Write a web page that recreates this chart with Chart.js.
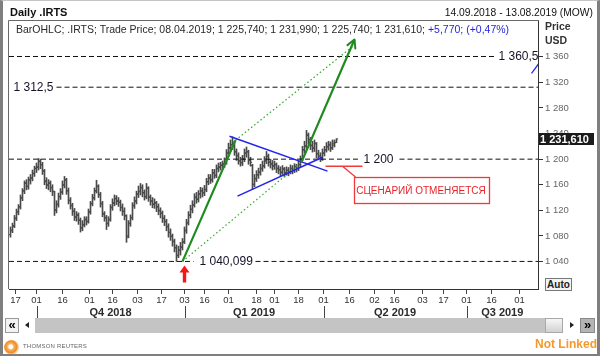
<!DOCTYPE html>
<html><head><meta charset="utf-8">
<script src="https://cdn.jsdelivr.net/npm/chart.js@4.4.1/dist/chart.umd.min.js"></script>
<style>
html,body{margin:0;padding:0;background:#fff;}
#wrap{position:relative;width:600px;height:356px;overflow:hidden;font-family:"Liberation Sans",Arial,sans-serif;background:#fff;}
#c{position:absolute;left:0;top:0;}
.t{position:absolute;white-space:nowrap;}
#frame{position:absolute;left:0;top:0;width:600px;height:356px;box-sizing:border-box;border-left:3px solid #7f7f7f;border-right:3px solid #7f7f7f;border-bottom:2px solid #7f7f7f;border-top:1px solid #c4c4c4;pointer-events:none;}
</style></head><body>
<div id="wrap">
<canvas id="c" width="600" height="356"></canvas>
<div class="t" style="left:10px;top:6px;font-weight:bold;font-size:11px;line-height:13px;color:#111;">Daily .IRTS</div>
<div class="t" style="right:7px;top:6px;font-size:10.3px;line-height:13px;color:#111;">14.09.2018 - 13.08.2019 (MOW)</div>
<div class="t" id="legend" style="left:16px;top:23px;font-size:10.5px;line-height:12px;color:#2a2a2a;"></div>
<div class="t" style="left:545px;top:20px;font-weight:bold;font-size:10.5px;line-height:13px;color:#333;">Price</div>
<div class="t" style="left:545px;top:34px;font-weight:bold;font-size:10.5px;line-height:13px;color:#333;">USD</div>
<div class="t" style="left:545px;top:278px;width:25px;height:11px;border:1px solid #777;background:#f3f3f3;font-weight:bold;font-size:10px;line-height:11px;text-align:center;color:#222;">Auto</div>
<!-- scrollbar -->
<div class="t" style="left:5px;top:318px;width:12px;height:13px;border:1px solid #9a9a9a;background:#f2f2f2;font-weight:bold;font-size:13px;line-height:12px;text-align:center;color:#000;">«</div>
<div class="t" style="left:25px;top:322px;width:0;height:0;border-top:3px solid transparent;border-bottom:3px solid transparent;border-right:4px solid #222;"></div>
<div class="t" style="left:35px;top:318px;width:510px;height:15px;background:#c4c4c4;"></div>
<div class="t" style="left:545px;top:318px;width:16px;height:13px;border:1px solid #a8a8a8;background:linear-gradient(#f6f6f6,#d2d2d2);"></div>
<div class="t" style="left:570px;top:322px;width:0;height:0;border-top:3px solid transparent;border-bottom:3px solid transparent;border-left:4px solid #222;"></div>
<div class="t" style="left:580px;top:318px;width:13px;height:13px;border:1px solid #888;background:#b4b4b4;font-weight:bold;font-size:13px;line-height:12px;text-align:center;color:#000;">»</div>
<!-- footer -->
<div class="t" style="left:4px;top:340px;width:15px;height:15px;border-radius:50%;background:radial-gradient(circle at 45% 45%,#fff 0 2px,#f9b56a 3px,#f08a1c 6px,#fbd2a4 7.5px);"></div>
<div class="t" style="left:23px;top:343px;font-size:6px;line-height:7px;color:#666;letter-spacing:0.2px;">THOMSON REUTERS</div>
<div class="t" style="right:3px;top:337px;font-weight:bold;font-size:12px;line-height:14px;color:#f39a2c;">Not Linked</div>
<div id="frame"></div>
</div>
<script>
// ---------- data ----------
const lastDate = '08.04.2019';
const opens = [1082,1089,1096,1107,1117,1126,1139,1151,1163,1157,
 1167,1171,1177,1186,1187,1197,1191,1181,1166,1159,
 1163,1156,1149,1121,1129,1141,1149,1159,1167,1151,
 1136,1127,1119,1109,1113,1104,1093,1097,1106,1103,
 1117,1131,1139,1151,1157,1144,1131,1114,1109,1099,
 1106,1124,1131,1139,1134,1133,1124,1119,1111,1080,
 1099,1109,1127,1134,1146,1149,1156,1147,1141,1154,
 1141,1134,1129,1131,1126,1119,1116,1107,1103,1094,
 1086,1079,1071,1061,1049,1057,1063,1071,1089,1101,
 1113,1121,1129,1141,1137,1146,1151,1147,1153,1164,
 1171,1167,1179,1174,1186,1187,1191,1193,1196,1209,
 1217,1223,1224,1211,1206,1197,1194,1201,1209,1211,
 1199,1190,1161,1169,1176,1179,1186,1189,1197,1204,
 1196,1193,1189,1191,1186,1184,1179,1184,1179,1182,
 1181,1185,1182,1189,1186,1191,1201,1214,1221,1237,
 1231,1221,1217,1224,1209,1204,1201,1209,1214,1219,
 1223,1217,1222,1225.74];
const highs = [1094,1100,1112,1122,1129,1144,1154,1166,1168,1172,
 1176,1183,1189,1194,1201,1200,1195,1184,1171,1168,
 1166,1160,1150,1135,1147,1154,1166,1173,1170,1155,
 1140,1131,1123,1118,1116,1108,1104,1110,1110,1122,
 1134,1145,1155,1167,1160,1148,1134,1118,1112,1110,
 1129,1138,1144,1143,1140,1136,1130,1124,1113,1104,
 1113,1132,1141,1150,1158,1162,1160,1152,1162,1157,
 1144,1140,1138,1134,1130,1124,1119,1112,1106,1099,
 1091,1083,1075,1066,1064,1070,1076,1094,1106,1118,
 1128,1135,1146,1148,1151,1156,1155,1159,1170,1176,
 1176,1184,1184,1191,1194,1195,1197,1202,1215,1225,
 1230,1235,1228,1216,1210,1203,1206,1216,1219,1214,
 1203,1192,1176,1182,1186,1192,1197,1204,1212,1208,
 1200,1198,1197,1194,1190,1188,1190,1187,1188,1187,
 1191,1190,1193,1192,1197,1205,1220,1228,1245,1241,
 1234,1228,1230,1226,1214,1210,1216,1220,1226,1228,
 1227,1230,1230,1231.99];
const lows = [1078,1085,1093,1104,1113,1122,1135,1146,1152,1153,
 1161,1166,1173,1179,1183,1185,1176,1160,1154,1152,
 1149,1143,1112,1116,1125,1137,1145,1155,1145,1130,
 1122,1112,1104,1103,1098,1086,1088,1094,1097,1100,
 1114,1127,1136,1147,1140,1125,1110,1103,1090,1095,
 1103,1120,1127,1129,1126,1119,1112,1105,1070,1077,
 1095,1105,1123,1130,1140,1144,1141,1136,1138,1134,
 1128,1124,1123,1118,1113,1108,1101,1096,1088,1078,
 1073,1064,1055,1040.099,1046,1050,1058,1068,1084,1097,
 1108,1116,1125,1131,1133,1139,1141,1143,1149,1160,
 1162,1164,1170,1171,1180,1183,1185,1187,1192,1204,
 1212,1215,1206,1198,1192,1189,1190,1196,1203,1192,
 1189,1153,1157,1165,1170,1175,1181,1186,1193,1189,
 1186,1183,1184,1179,1177,1174,1176,1172,1175,1174,
 1177,1177,1179,1180,1182,1188,1198,1210,1217,1224,
 1215,1211,1212,1202,1199,1196,1198,1205,1211,1214,
 1212,1215,1219,1225.74];
const closes = [1088,1095,1108,1118,1125,1140,1150,1162,1158,1168,
 1170,1178,1185,1188,1196,1192,1182,1165,1160,1162,
 1155,1150,1120,1130,1142,1148,1160,1168,1150,1135,
 1128,1118,1110,1112,1105,1092,1098,1105,1102,1118,
 1130,1140,1150,1158,1145,1130,1115,1108,1100,1105,
 1125,1132,1138,1135,1132,1125,1118,1112,1078,1100,
 1108,1128,1135,1145,1150,1155,1148,1142,1155,1140,
 1135,1130,1132,1125,1120,1115,1108,1102,1095,1085,
 1080,1072,1062,1050,1058,1062,1070,1088,1100,1112,
 1122,1128,1140,1138,1145,1150,1148,1152,1165,1170,
 1168,1178,1175,1185,1188,1190,1192,1195,1210,1218,
 1222,1225,1212,1205,1198,1195,1200,1210,1212,1198,
 1195,1160,1170,1175,1180,1185,1190,1198,1205,1195,
 1192,1190,1192,1185,1183,1180,1185,1178,1183,1180,
 1186,1183,1188,1185,1192,1200,1215,1220,1238,1230,
 1222,1218,1225,1208,1205,1200,1210,1215,1220,1222,
 1218,1225,1225.84,1231.61];

// x axis (bar index) ticks
const xTickPos = [2.5,13,26,39.5,51,63.5,75.5,87,97,109,123,132,144,156.5,169.5,182,192,206,216.5,228,240.5,254.5];
const xTickLabels = ['17','01','16','01','16','03','17','03','16','01','18','01','18','01','16','02','16','03','17','01','16','01'];
const quarterStarts = [13, 87, 156.5, 228];
const quarterLabels = ['Q4 2018','Q1 2019','Q2 2019','Q3 2019'];
const yTicks = [1040,1080,1120,1160,1200,1240,1280,1320,1360];

// horizontal levels
const levels = [1360.5, 1312.5, 1200, 1040.099];
const levelLabels = ['1 360,5','1 312,5','1 200','1 040,099'];
const levelLabelX = [244, 1.5, 176.5, 94.5];
const levelSegments = [[[-0.75,242]], [[23,263.75]], [[-0.75,174.5],[194.5,263.75]], [[-0.75,91.5],[122.5,263.75]]];

// drawn studies
const flagpole = [{x:86,y:1040.1},{x:112.5,y:1229.7}];
const projection = [{x:145.5,y:1195.3},{x:172,y:1387}];
const channelUpper = [{x:112.5,y:1229.7},{x:171,y:1376}];
const channelLower = [{x:86,y:1040.1},{x:145.5,y:1195.3}];
const triUpper = [{x:109.5,y:1235.9},{x:158.5,y:1181.3}];
const triLower = [{x:113.5,y:1142.2},{x:156,y:1203}];
const edgeLine = [{x:260.5,y:1334},{x:264.5,y:1351}];
const cancelLevel = [{x:157.5,y:1189},{x:176,y:1189}];
const cancelBox = {x0:171.5, x1:239, yTop:1172, yBot:1131, fromX:166};
const cancelText = 'СЦЕНАРИЙ ОТМЕНЯЕТСЯ';
const lowArrowX = 87;

// ---------- helpers ----------
const F = '"Liberation Sans", Arial, sans-serif';
const sp = s => s.replace(/\B(?=(\d{3})+(?!\d))/g, ' ');
const f3 = n => { const p = n.toFixed(3).split('.'); return sp(p[0]) + ',' + p[1]; };
const N = closes.length;
const last = N - 1;
const chg = closes[last] - closes[last-1];
const pct = chg / closes[last-1] * 100;
document.getElementById('legend').innerHTML =
  'BarOHLC; .IRTS; Trade Price; ' + lastDate + '; ' + f3(opens[last]) + '; ' + f3(highs[last]) + '; ' +
  f3(lows[last]) + '; ' + f3(closes[last]) + '; <span style="color:#1f1fe0">+' + f3(chg) + '; (+' +
  pct.toFixed(2).replace('.', ',') + '%)</span>';

const idx = closes.map((_, i) => i);
const GREEN = '#1f8a1f', GREEN_DOT = '#36a836', BLUE = '#2323f0', RED = '#f23a3a', BAR = '#4a4a4a';

function lineDs(data, color, width, dash, order) {
  return {type:'line', data, borderColor:color, borderWidth:width, borderDash:dash || [],
    pointRadius:0, pointHoverRadius:0, fill:false, tension:0, spanGaps:false, order};
}
const levelDatasets = levels.map((lv, k) => {
  const pts = [];
  levelSegments[k].forEach((seg, j) => {
    if (j > 0) pts.push({x:(seg[0] + levelSegments[k][j-1][1]) / 2, y:null});
    pts.push({x:seg[0], y:lv}, {x:seg[1], y:lv});
  });
  return lineDs(pts, '#111', 1, [5,3], 6);
});

const overlay = {
  id:'overlay',
  afterDatasetsDraw(chart) {
    const {ctx, chartArea:ca, scales:{x, y}} = chart;
    ctx.save();
    ctx.beginPath(); ctx.rect(ca.left, ca.top, ca.right - ca.left, ca.bottom - ca.top); ctx.clip();
    // level labels
    ctx.font = '12px ' + F; ctx.fillStyle = '#141428'; ctx.textBaseline = 'middle'; ctx.textAlign = 'left';
    levels.forEach((lv, k) => ctx.fillText(levelLabels[k], x.getPixelForValue(levelLabelX[k]), y.getPixelForValue(lv) + 0.5));
    // arrow head on projection
    const p0 = {x:x.getPixelForValue(projection[0].x), y:y.getPixelForValue(projection[0].y)};
    const p1 = {x:x.getPixelForValue(projection[1].x), y:y.getPixelForValue(projection[1].y)};
    const ang = Math.atan2(p1.y - p0.y, p1.x - p0.x);
    ctx.strokeStyle = GREEN; ctx.lineWidth = 2; ctx.lineCap = 'round';
    ctx.beginPath();
    [-0.5, 0.5].forEach(a => { ctx.moveTo(p1.x, p1.y); ctx.lineTo(p1.x - 9 * Math.cos(ang + a), p1.y - 9 * Math.sin(ang + a)); });
    ctx.stroke();
    // cancel box
    const bx0 = x.getPixelForValue(cancelBox.x0), bx1 = x.getPixelForValue(cancelBox.x1);
    const by0 = y.getPixelForValue(cancelBox.yTop), by1 = y.getPixelForValue(cancelBox.yBot);
    ctx.strokeStyle = RED; ctx.lineWidth = 1.3; ctx.lineCap = 'butt';
    ctx.beginPath();
    ctx.moveTo(x.getPixelForValue(cancelBox.fromX), y.getPixelForValue(cancelLevel[0].y));
    ctx.lineTo(bx0 + 2, by0);
    ctx.stroke();
    ctx.fillStyle = '#fff';
    ctx.fillRect(bx0, by0, bx1 - bx0, by1 - by0);
    ctx.strokeRect(Math.round(bx0) + 0.5, Math.round(by0) + 0.5, Math.round(bx1 - bx0), Math.round(by1 - by0));
    ctx.fillStyle = '#e8242a'; ctx.font = '10px ' + F; ctx.textAlign = 'center';
    ctx.fillText(cancelText, (bx0 + bx1) / 2, (by0 + by1) / 2 + 1);
    ctx.restore();
    // red arrow under the low
    ctx.save();
    const ax = x.getPixelForValue(lowArrowX), ay = y.getPixelForValue(levels[3]) + 4;
    ctx.fillStyle = '#f21818';
    ctx.beginPath();
    ctx.moveTo(ax, ay); ctx.lineTo(ax + 5, ay + 7); ctx.lineTo(ax + 1.7, ay + 7); ctx.lineTo(ax + 1.7, ay + 17);
    ctx.lineTo(ax - 1.7, ay + 17); ctx.lineTo(ax - 1.7, ay + 7); ctx.lineTo(ax - 5, ay + 7); ctx.closePath();
    ctx.fill();
    ctx.restore();
  },
  afterDraw(chart) {
    const {ctx, chartArea:ca, scales:{x, y}} = chart;
    ctx.save();
    // plot frame top & left
    ctx.strokeStyle = '#6a6a6a'; ctx.lineWidth = 1;
    ctx.beginPath();
    ctx.moveTo(ca.left - 0.5, ca.bottom); ctx.lineTo(ca.left - 0.5, ca.top - 0.5); ctx.lineTo(ca.right + 1, ca.top - 0.5);
    ctx.stroke();
    // quarters
    ctx.strokeStyle = '#444';
    ctx.beginPath();
    quarterStarts.forEach(q => { const px = Math.round(x.getPixelForValue(q)) + 0.5; ctx.moveTo(px, 306); ctx.lineTo(px, 318); });
    ctx.stroke();
    ctx.font = 'bold 11px ' + F; ctx.fillStyle = '#2b2b2b'; ctx.textAlign = 'center'; ctx.textBaseline = 'middle';
    quarterStarts.forEach((q, k) => {
      const a = x.getPixelForValue(q);
      const b = k + 1 < quarterStarts.length ? x.getPixelForValue(quarterStarts[k+1]) : ca.right;
      ctx.fillText(quarterLabels[k], (a + b) / 2, 312.5);
    });
    // last price tag
    const py = Math.round(y.getPixelForValue(closes[last]));
    ctx.fillStyle = '#1b1b1b';
    ctx.fillRect(ca.right + 1, py - 6, 55, 12);
    ctx.fillStyle = '#fff'; ctx.font = 'bold 11px ' + F; ctx.textAlign = 'left';
    ctx.fillText(f3(closes[last]), ca.right + 2, py + 0.5);
    ctx.restore();
  }
};

new Chart(document.getElementById('c'), {
  type:'bar',
  data:{ datasets:[
    {type:'bar', data: idx.map(i => ({x:i, y:[lows[i], highs[i]]})), backgroundColor:BAR, barThickness:1, order:10},
    {type:'scatter', data: idx.map(i => ({x:i, y:opens[i]})), pointStyle:'dash', pointRotation:180, pointRadius:1.6, pointHoverRadius:1.6,
      borderColor:BAR, pointBorderColor:BAR, pointBorderWidth:1, order:9},
    {type:'scatter', data: idx.map(i => ({x:i, y:closes[i]})), pointStyle:'dash', pointRotation:0, pointRadius:1.6, pointHoverRadius:1.6,
      borderColor:BAR, pointBorderColor:BAR, pointBorderWidth:1, order:9},
    ...levelDatasets,
    lineDs(channelUpper, GREEN_DOT, 1.2, [1.5,2.5], 4),
    lineDs(channelLower, GREEN_DOT, 1.2, [1.5,2.5], 4),
    lineDs(triUpper, BLUE, 1.5, null, 3),
    lineDs(triLower, BLUE, 1.5, null, 3),
    lineDs(edgeLine, BLUE, 1.2, null, 3),
    lineDs(cancelLevel, RED, 1.5, null, 3),
    lineDs(flagpole, GREEN, 2.2, null, 2),
    lineDs(projection, GREEN, 2.2, null, 2)
  ]},
  options:{
    responsive:false, animation:false, devicePixelRatio:1, events:[],
    layout:{padding:{left:9, top:21, right:0, bottom:0}},
    plugins:{legend:{display:false}, tooltip:{enabled:false}},
    scales:{
      x:{type:'linear', position:'bottom', min:-0.75, max:263.75, offset:false,
        afterFit(s){ s.height = 67; },
        afterBuildTicks(s){ s.ticks = xTickPos.map(v => ({value:v})); },
        grid:{drawOnChartArea:false, drawTicks:true, tickLength:5, color:'#444', offset:false},
        border:{display:true, color:'#333'},
        ticks:{autoSkip:false, maxRotation:0, padding:1, color:'#333', font:{family:F, size:9.5},
          callback:(v, i) => xTickLabels[i]}},
      y:{type:'linear', position:'right', min:997, max:1416, beginAtZero:false,
        afterFit(s){ s.width = 62; },
        afterBuildTicks(s){ s.ticks = yTicks.map(v => ({value:v})); },
        grid:{drawOnChartArea:false, drawTicks:true, tickLength:5, color:'#333'},
        border:{display:true, color:'#333'},
        ticks:{padding:2, color:'#666', font:{family:F, size:9.5}, callback:v => sp(String(v))}}
    }
  },
  plugins:[overlay]
});
</script>
</body></html>
